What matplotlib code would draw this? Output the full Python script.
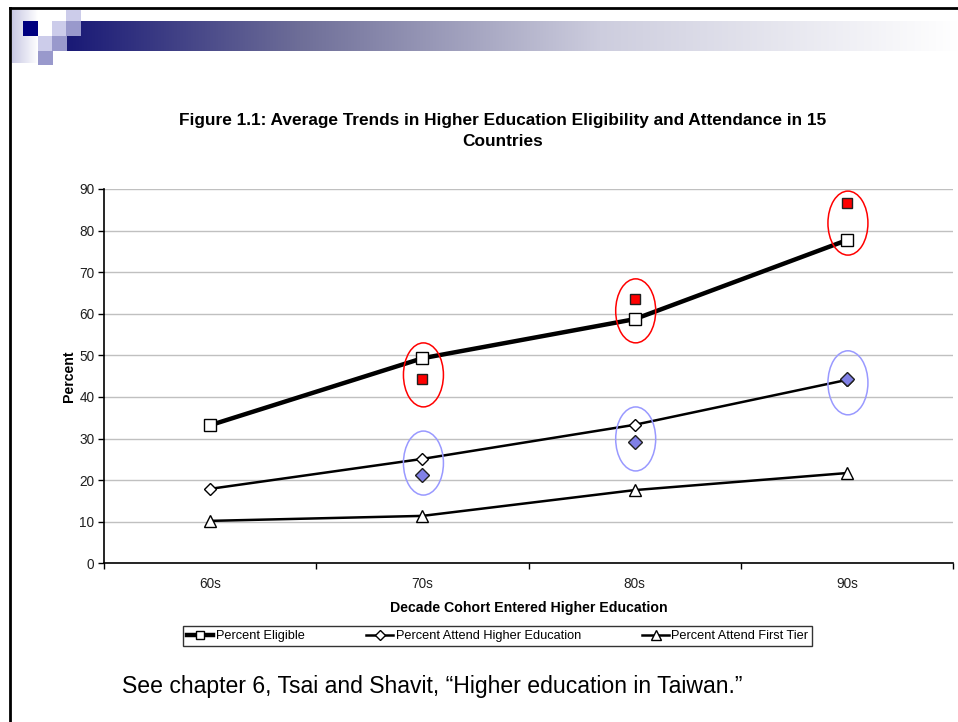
import numpy as np
import matplotlib
matplotlib.use("Agg")
import matplotlib.pyplot as plt
from matplotlib.patches import Ellipse, Rectangle
from matplotlib.lines import Line2D

plt.rcParams['font.family'] = ['Liberation Sans', 'DejaVu Sans']

# ---- data ----
decades = ["60s", "70s", "80s", "90s"]
pct_eligible = [33.2, 49.3, 58.7, 77.7]
pct_attend_higher = [17.9, 25.1, 33.3, 44.1]
pct_attend_first_tier = [10.2, 11.4, 17.6, 21.7]

# Taiwan values highlighted against the averages (70s-90s)
taiwan_decades = ["70s", "80s", "90s"]
taiwan_eligible = [44.3, 63.5, 86.6]
taiwan_attend_higher = [21.2, 29.1, 44.3]
ring_eligible_centers = [45.3, 60.7, 81.8]
ring_attend_centers = [24.1, 29.9, 43.4]

title = "Figure 1.1: Average Trends in Higher Education Eligibility and Attendance in 15\nCountries"
xlabel = "Decade Cohort Entered Higher Education"
ylabel = "Percent"
caption = "See chapter 6, Tsai and Shavit, \u201cHigher education in Taiwan.\u201d"

W, H = 958, 722
fig = plt.figure(figsize=(W / 100, H / 100), dpi=100)
fig.patch.set_facecolor("white")


def fx(x):
    return x / W


def fy(y):
    return 1 - y / H


def rect_px(x0, y0, x1, y1, color, z=5):
    fig.add_artist(Rectangle((fx(x0), fy(y1)), fx(x1) - fx(x0), fy(y0) - fy(y1),
                             transform=fig.transFigure, facecolor=color,
                             edgecolor="none", zorder=z))


# ---- slide decoration: header gradient bar and squares ----
stops_x = np.array([67, 300, 600, 958])
stops_c = np.array([[25, 25, 118], [110, 110, 152], [205, 205, 222], [255, 255, 255]]) / 255
xs = np.linspace(67, 958, 600)
grad = np.stack([np.interp(xs, stops_x, stops_c[:, k]) for k in range(3)], axis=-1)
gax = fig.add_axes([fx(67), fy(51), fx(958) - fx(67), fy(21) - fy(51)])
gax.imshow(grad[np.newaxis, :, :], aspect="auto", extent=(0, 1, 0, 1))
gax.set_axis_off()

# soft lavender fade on the left edge
lxs = np.linspace(0, 1, 100)
lav = np.array([200, 200, 228]) / 255
lgrad = np.stack([lav[k] + (1 - lav[k]) * lxs for k in range(3)], axis=-1)
lax = fig.add_axes([fx(12), fy(63), fx(38) - fx(12), fy(10) - fy(63)])
lax.imshow(lgrad[np.newaxis, :, :], aspect="auto", extent=(0, 1, 0, 1))
lax.set_axis_off()

light = "#ccccea"
medium = "#9999cc"
navy = "#000080"
rect_px(66, 10, 81, 21, light)
rect_px(23, 21, 38, 36, navy)
rect_px(52, 21, 66, 36, light)
rect_px(66, 21, 81, 36, medium)
rect_px(38, 36, 52, 51, light)
rect_px(52, 36, 67, 51, medium)
rect_px(38, 51, 53, 65, medium)

# slide frame lines
fig.add_artist(Line2D([fx(10), fx(958)], [fy(8), fy(8)], transform=fig.transFigure,
                      color="black", lw=2.0, zorder=6))
fig.add_artist(Line2D([fx(10.3), fx(10.3)], [fy(8), fy(722)], transform=fig.transFigure,
                      color="black", lw=2.0, zorder=6))

# ---- chart ----
ax = fig.add_axes([fx(104), fy(563.3), fx(953) - fx(104), fy(189) - fy(563.3)])
x = np.arange(len(decades))
tx = np.array([decades.index(d) for d in taiwan_decades])

ax.plot(x, pct_eligible, color="black", lw=3.2, marker="s", ms=8,
        mfc="white", mec="black", mew=1.0, zorder=4, label="Percent Eligible")
ax.plot(x, pct_attend_higher, color="black", lw=1.8, marker="D", ms=6,
        mfc="white", mec="black", mew=1.0, zorder=4, label="Percent Attend Higher Education")
ax.plot(x, pct_attend_first_tier, color="black", lw=1.8, marker="^", ms=9,
        mfc="white", mec="black", mew=1.0, zorder=4, label="Percent Attend First Tier")

ax.plot(tx, taiwan_eligible, ls="none", marker="s", ms=7.5, mfc="#ff0000",
        mec="#202020", mew=1.0, zorder=5)
ax.plot(tx, taiwan_attend_higher, ls="none", marker="D", ms=7.5, mfc="#8080e6",
        mec="#202020", mew=1.0, zorder=5)

ell_w = 40 / 212.3
ell_h = 64 / 4.159
for xi, yc in zip(tx, ring_eligible_centers):
    ax.add_patch(Ellipse((xi + 0.005, yc), ell_w, ell_h, fill=False,
                         edgecolor="#ff0000", lw=1.1, zorder=6))
for xi, yc in zip(tx, ring_attend_centers):
    ax.add_patch(Ellipse((xi + 0.005, yc), ell_w, ell_h, fill=False,
                         edgecolor="#9999ff", lw=1.1, zorder=6))

ax.set_xlim(-0.5, len(decades) - 0.5)
ax.set_ylim(0, 90)
ax.set_yticks(np.arange(0, 91, 10))
ax.set_xticks(x)
ax.set_xticklabels(decades)
ax.set_xticks(np.arange(-0.5, len(decades), 1.0), minor=True)
ax.tick_params(axis="x", which="major", length=0, labelsize=9.8, pad=10, colors="#202020")
ax.tick_params(axis="x", which="minor", length=4, width=1, direction="out", color="black")
ax.tick_params(axis="y", length=4, width=1, direction="out", labelsize=9.8,
               colors="#202020", pad=3)
ax.tick_params(axis="y", color="black")
ax.grid(axis="y", color="#c0c0c0", lw=1.0)
ax.set_axisbelow(True)
for side in ["top", "right"]:
    ax.spines[side].set_visible(False)
for side in ["left", "bottom"]:
    ax.spines[side].set_color("black")
    ax.spines[side].set_linewidth(1.2)

ax.set_xlabel(xlabel, fontsize=10.2, fontweight="bold", labelpad=7)
ax.set_ylabel(ylabel, fontsize=10.2, fontweight="bold", labelpad=2)

fig.text(fx(503), fy(131), title, ha="center", va="center", fontsize=12.4,
         fontweight="bold", linespacing=1.55)

leg = fig.legend(loc="center", bbox_to_anchor=(fx(497.5), fy(636)), ncol=3,
                 fontsize=9.2, frameon=True, fancybox=False, edgecolor="black",
                 handlelength=2.1, handletextpad=0.2, columnspacing=4.8,
                 borderpad=0.3, markerscale=0.8)
leg.get_frame().set_linewidth(1.0)

fig.text(fx(122), fy(686), caption, ha="left", va="center", fontsize=16.6)

fig.savefig("out.png", dpi=100, facecolor="white")
